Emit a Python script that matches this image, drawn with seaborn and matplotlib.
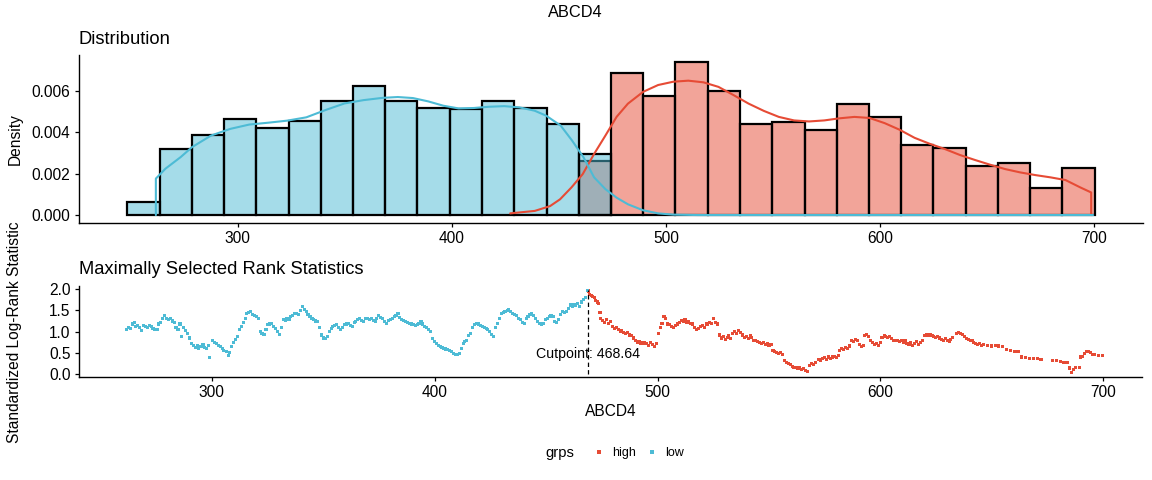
import numpy as np
import pandas as pd
import matplotlib
matplotlib.use("Agg")
import matplotlib.pyplot as plt
import seaborn as sns
from matplotlib.lines import Line2D

# ---------------- data ----------------
bin_edges = [248.5, 263.6, 278.6, 293.7, 308.7, 323.8, 338.9, 353.9, 369.0, 384.0,
             399.1, 414.2, 429.2, 444.3, 459.3, 474.4, 489.5, 504.5, 519.6, 534.6,
             549.7, 564.8, 579.8, 594.9, 609.9, 625.0, 640.1, 655.1, 670.2, 685.2, 700.3]
# low group occupies bins 0..14, high group bins 14..29
low_density = [0.00064, 0.00317, 0.00389, 0.00462, 0.00422, 0.00453, 0.00549, 0.00624,
               0.00549, 0.00518, 0.00514, 0.00549, 0.00518, 0.00442, 0.00293]
high_density = [0.00261, 0.00688, 0.00576, 0.00741, 0.00600, 0.00438, 0.00451, 0.00410,
                0.00538, 0.00474, 0.00337, 0.00323, 0.00235, 0.00250, 0.00133, 0.00227]

low_kde_x = [261.8, 261.8, 266.3, 273.4, 278.7, 287.6, 296.5, 305.4, 314.3, 323.2, 332.1,
             341.0, 349.9, 358.8, 367.7, 374.8, 381.9, 389.0, 396.1, 403.2, 410.3, 417.4,
             424.5, 431.6, 438.7, 444.1, 450.9, 456.2, 461.5, 466.5, 471.8, 477.0, 482.3,
             489.4, 496.4, 503.5, 515.0, 600.0, 699.6]
low_kde_y = [0.0, 0.00176, 0.00224, 0.0028, 0.00328, 0.00384, 0.00416, 0.00437, 0.00446,
             0.00456, 0.00472, 0.00507, 0.00539, 0.00555, 0.00566, 0.0057, 0.00565, 0.00549,
             0.00528, 0.00515, 0.00517, 0.00523, 0.00526, 0.0052, 0.00504, 0.0048, 0.00432,
             0.0036, 0.0028, 0.00182, 0.00125, 0.00084, 0.00052, 0.00023, 0.00008, 0.00002,
             0.0, 0.0, 0.0]
high_kde_x = [427.3, 438.8, 445.9, 450.6, 455.9, 461.2, 466.5, 471.8, 477.0, 482.3, 489.4,
              496.4, 503.5, 510.5, 517.6, 524.6, 531.7, 538.7, 545.8, 552.8, 559.9, 566.9,
              574.0, 581.0, 588.1, 595.1, 602.2, 609.2, 616.2, 623.3, 630.3, 637.4, 644.4,
              651.5, 658.5, 665.5, 672.6, 679.7, 686.7, 693.7, 698.7, 698.7]
high_kde_y = [0.00008, 0.0002, 0.00043, 0.00076, 0.00133, 0.00198, 0.00295, 0.00384, 0.00474,
              0.00538, 0.00595, 0.00628, 0.00644, 0.00649, 0.00641, 0.00619, 0.00579, 0.00538,
              0.00503, 0.00474, 0.00457, 0.00452, 0.00457, 0.00467, 0.00474, 0.00469, 0.00444,
              0.00412, 0.00373, 0.00344, 0.00319, 0.0029, 0.00266, 0.00243, 0.00222, 0.00206,
              0.00193, 0.00182, 0.00169, 0.00133, 0.00109, 0.0]

low_stat_x = [261.7, 262.6, 263.4, 264.3, 265.2, 266.0, 266.9, 267.8, 268.6, 269.5, 270.3, 271.2,
              272.0, 272.9, 273.7, 274.6, 275.5, 276.3, 277.2, 278.0, 278.9, 279.8, 280.6, 281.5,
              282.3, 283.2, 284.0, 284.9, 285.8, 286.6, 287.5, 288.3, 289.2, 290.0, 290.9, 291.8,
              292.6, 293.5, 294.3, 295.2, 296.1, 296.9, 297.8, 298.6, 299.1, 300.3, 301.2, 302.1,
              303.0, 303.8, 304.7, 305.5, 306.7, 307.6, 308.2, 308.9, 309.8, 310.6, 311.5, 312.4,
              313.2, 314.1, 315.0, 315.8, 316.7, 317.5, 318.4, 319.2, 320.1, 320.9, 321.8, 322.6,
              323.5, 324.4, 325.2, 326.1, 326.9, 327.8, 328.7, 329.5, 330.4, 331.2, 332.1, 333.0,
              333.8, 334.7, 335.5, 336.4, 337.2, 338.1, 339.0, 339.8, 340.7, 341.5, 342.4, 343.2,
              344.1, 345.0, 345.8, 346.7, 347.5, 348.4, 349.3, 350.1, 351.0, 351.8, 352.7, 353.6,
              354.4, 355.3, 356.1, 357.0, 357.8, 358.7, 359.6, 360.4, 361.3, 362.1, 363.0, 363.9,
              364.7, 365.6, 366.4, 367.3, 368.1, 369.0, 369.8, 370.7, 371.6, 372.4, 373.3, 374.1,
              375.0, 375.8, 376.7, 377.6, 378.4, 379.3, 380.1, 381.0, 381.9, 382.7, 383.6, 384.4,
              385.3, 386.1, 387.0, 387.9, 388.7, 389.6, 390.4, 391.3, 392.2, 393.0, 393.9, 394.7,
              395.6, 396.4, 397.3, 398.2, 399.0, 399.9, 400.7, 401.6, 402.5, 403.3, 404.2, 405.0,
              405.9, 406.7, 407.6, 408.5, 409.3, 410.2, 411.0, 411.9, 412.8, 413.6, 414.5, 415.3,
              416.2, 417.1, 417.9, 418.8, 419.6, 420.5, 421.3, 422.2, 423.1, 423.9, 424.8, 425.6,
              426.5, 427.4, 428.2, 429.1, 429.9, 430.8, 431.6, 432.5, 433.3, 434.2, 435.1, 435.9,
              436.8, 437.6, 438.5, 439.4, 440.2, 441.1, 441.9, 442.8, 443.6, 444.5, 445.4, 446.2,
              447.1, 447.9, 448.8, 449.7, 450.5, 451.4, 452.2, 453.1, 453.9, 454.8, 455.7, 456.5,
              457.4, 458.2, 459.1, 460.0, 460.8, 461.7, 462.5, 463.4, 464.2, 465.1, 466.0, 466.8,
              467.7, 468.6]
low_stat_y = [1.05, 1.10, 1.08, 1.18, 1.22, 1.12, 1.15, 1.10, 1.02, 1.14, 1.12, 1.10,
              1.15, 1.12, 1.08, 1.04, 1.06, 1.18, 1.22, 1.30, 1.38, 1.32, 1.28, 1.32,
              1.25, 1.22, 1.10, 1.05, 1.18, 0.88, 1.10, 1.02, 0.95, 0.85, 0.72, 0.68,
              0.62, 0.66, 0.60, 0.65, 0.70, 0.62, 0.60, 0.68, 0.38, 0.80, 0.75, 0.72,
              0.68, 0.65, 0.60, 0.56, 0.52, 0.43, 0.50, 0.65, 0.75, 0.82, 0.88, 1.04,
              1.12, 1.22, 1.30, 1.42, 1.45, 1.47, 1.40, 1.39, 1.35, 1.30, 1.00, 0.96,
              0.94, 1.05, 1.16, 1.18, 1.20, 1.12, 1.08, 1.00, 0.94, 1.10, 1.28, 1.26,
              1.31, 1.28, 1.35, 1.38, 1.43, 1.42, 1.40, 1.50, 1.59, 1.52, 1.47, 1.40,
              1.35, 1.30, 1.28, 1.25, 1.24, 1.10, 0.92, 0.85, 0.84, 0.88, 1.00, 1.08,
              1.12, 1.14, 1.16, 1.10, 1.04, 1.10, 1.16, 1.18, 1.20, 1.15, 1.12, 1.22,
              1.24, 1.28, 1.31, 1.26, 1.24, 1.30, 1.31, 1.28, 1.31, 1.26, 1.24, 1.30,
              1.39, 1.33, 1.31, 1.24, 1.20, 1.26, 1.28, 1.32, 1.35, 1.39, 1.43, 1.34,
              1.28, 1.26, 1.24, 1.22, 1.20, 1.18, 1.16, 1.14, 1.16, 1.20, 1.24, 1.18,
              1.12, 1.10, 1.04, 1.00, 0.84, 0.76, 0.72, 0.68, 0.65, 0.63, 0.61, 0.59,
              0.57, 0.55, 0.53, 0.49, 0.47, 0.45, 0.49, 0.60, 0.72, 0.76, 0.80, 0.90,
              0.96, 1.10, 1.16, 1.20, 1.18, 1.14, 1.12, 1.10, 1.08, 1.04, 1.00, 0.94,
              0.88, 1.10, 1.20, 1.32, 1.43, 1.46, 1.47, 1.50, 1.51, 1.47, 1.43, 1.41,
              1.39, 1.31, 1.28, 1.22, 1.20, 1.30, 1.35, 1.40, 1.43, 1.38, 1.31, 1.24,
              1.20, 1.18, 1.20, 1.28, 1.31, 1.35, 1.39, 1.35, 1.24, 1.22, 1.28, 1.40,
              1.47, 1.45, 1.47, 1.55, 1.63, 1.60, 1.65, 1.63, 1.67, 1.60, 1.70, 1.75,
              1.80, 1.98]

high_stat_x = [469.0, 469.6, 470.3, 471.0, 471.7, 472.3, 473.0, 473.7, 474.2, 474.6, 475.5, 476.4,
               477.2, 478.1, 478.9, 479.7, 480.6, 481.5, 482.3, 483.2, 484.0, 484.9, 485.7, 486.6,
               487.4, 488.3, 489.1, 490.0, 490.9, 491.7, 492.6, 493.4, 494.3, 495.2, 496.0, 496.9,
               497.7, 498.6, 499.5, 500.3, 501.2, 502.0, 502.9, 503.7, 504.6, 505.5, 506.3, 507.2,
               508.0, 508.9, 509.7, 510.6, 511.5, 512.3, 513.2, 514.0, 514.9, 515.8, 516.6, 517.5,
               518.3, 519.2, 520.0, 520.9, 521.8, 522.6, 523.5, 524.3, 525.2, 526.0, 526.9, 527.7,
               528.6, 529.5, 530.3, 531.2, 532.0, 532.9, 533.7, 534.6, 535.5, 536.3, 537.2, 538.0,
               538.9, 539.8, 540.6, 541.5, 542.3, 543.2,
               544.0, 544.9, 545.8, 546.6, 547.5, 548.3, 549.2, 550.0, 550.9, 551.8, 552.6, 553.5,
               554.3, 555.2, 556.1, 556.9, 557.8, 558.6, 559.5, 560.4, 561.2, 562.1, 562.9, 563.8,
               564.7, 565.5, 566.4, 567.3, 568.1, 568.9, 569.8, 570.7, 572.4, 573.2, 574.1, 575.0,
               575.8, 576.7, 577.6, 578.4, 579.3, 580.1, 581.0, 581.8, 582.7, 583.6, 584.4, 585.3,
               586.2, 587.0, 587.9, 588.7, 589.6, 590.4, 591.3, 592.2, 593.0, 593.9, 594.7, 595.6,
               596.4, 597.3, 598.2, 599.0, 599.9, 600.7, 601.6, 602.4, 603.3, 604.2, 605.0, 605.9,
               606.7, 607.6, 608.5, 609.3, 610.2, 611.0, 611.9, 612.8, 613.6, 614.5, 615.3, 616.2,
               617.0, 617.9, 618.8, 619.6, 620.5, 621.3, 622.2, 623.1, 623.9, 624.8, 625.6, 626.5,
               627.3, 628.2, 629.1, 629.9, 630.8, 631.6, 632.5, 634.2, 635.1, 635.9, 636.8, 637.6,
               638.5, 639.4, 640.2, 641.1, 641.9, 642.8, 643.7, 644.5, 645.4, 646.2, 647.9, 649.7,
               651.4, 653.1, 654.8, 656.5, 658.3, 660.0, 661.7, 663.4, 665.1, 666.8, 668.5, 670.3,
               672.0, 677.1, 678.8, 680.6, 682.3, 684.0, 684.9, 685.7, 686.6, 687.4, 689.1, 689.9,
               690.8, 691.7, 692.6, 693.4, 694.3, 695.1, 696.0, 697.7, 699.6]
high_stat_y = [1.96, 1.88, 1.85, 1.82, 1.80, 1.74, 1.70, 1.66, 1.45, 1.30, 1.26, 1.22,
               1.28, 1.20, 1.24, 1.12, 1.08, 1.10, 1.05, 1.00, 1.02, 0.98, 0.96, 0.98,
               0.92, 0.90, 0.85, 0.80, 0.74, 0.76, 0.73, 0.75, 0.73, 0.72, 0.68, 0.74,
               0.70, 0.65, 0.72, 0.95, 1.10, 1.20, 1.35, 1.30, 1.18, 1.16, 1.12, 1.10,
               1.15, 1.18, 1.22, 1.26, 1.24, 1.28, 1.22, 1.24, 1.20, 1.18, 1.10, 1.05,
               1.08, 1.12, 1.15, 1.10, 1.18, 1.16, 1.22, 1.20, 1.30, 1.22, 1.18, 0.92,
               0.85, 0.88, 0.82, 0.86, 0.90, 0.84, 0.95, 1.00, 0.96, 1.02, 0.98, 0.92,
               0.86, 0.88, 0.84, 0.90, 0.86, 0.80,
               0.80, 0.76, 0.74, 0.72, 0.74, 0.70, 0.72, 0.68, 0.70, 0.55, 0.52, 0.50,
               0.48, 0.50, 0.45, 0.32, 0.28, 0.25, 0.22, 0.18, 0.15, 0.16, 0.12, 0.14,
               0.10, 0.12, 0.08, 0.05, 0.20, 0.25, 0.22, 0.26, 0.35, 0.32, 0.36, 0.38,
               0.34, 0.40, 0.36, 0.40, 0.42, 0.38, 0.44, 0.55, 0.60, 0.58, 0.62, 0.60,
               0.66, 0.80, 0.76, 0.82, 0.78, 0.70, 0.65, 0.68, 0.90, 0.93, 0.88, 0.78,
               0.74, 0.70, 0.72, 0.68, 0.74, 0.86, 0.90, 0.88, 0.86, 0.88, 0.84, 0.80,
               0.78, 0.80, 0.76, 0.78, 0.74, 0.80, 0.72, 0.70, 0.74, 0.68, 0.72, 0.76,
               0.70, 0.74, 0.78, 0.90, 0.92, 0.94, 0.92, 0.90, 0.88, 0.86, 0.88, 0.85,
               0.82, 0.78, 0.84, 0.80, 0.76, 0.82, 0.86, 0.96, 0.97, 0.96, 0.94, 0.88,
               0.84, 0.82, 0.78, 0.80, 0.74, 0.72, 0.70, 0.72, 0.68, 0.70, 0.68, 0.66,
               0.68, 0.66, 0.64, 0.58, 0.56, 0.54, 0.52, 0.40, 0.38, 0.37, 0.36, 0.36,
               0.35, 0.32, 0.31, 0.30, 0.28, 0.26, 0.14, 0.03, 0.10, 0.15, 0.16, 0.40,
               0.42, 0.48, 0.53, 0.52, 0.50, 0.46, 0.45, 0.44, 0.44]

cutpoint = 468.64
x_ticks = [300, 400, 500, 600, 700]
dens_ticks = [0.000, 0.002, 0.004, 0.006]
stat_ticks = [0.0, 0.5, 1.0, 1.5, 2.0]
group_names = ["high", "low"]

# ---------------- style ----------------
RED = "#E64B35"
BLUE = "#4DBBD5"
sns.set_theme(style="ticks")
plt.rcParams['font.family'] = ['Liberation Sans', 'DejaVu Sans']
plt.rcParams.update({
    'text.color': 'black', 'axes.labelcolor': 'black',
    'xtick.color': 'black', 'ytick.color': 'black', 'axes.edgecolor': 'black',
    'axes.linewidth': 1.0, 'xtick.major.width': 0.9, 'ytick.major.width': 0.9,
    'xtick.major.size': 2.6, 'ytick.major.size': 2.6,
    'xtick.major.pad': 3.5, 'ytick.major.pad': 3.5,
    'xtick.labelsize': 11.2, 'ytick.labelsize': 11.2,
})

W, H = 1152, 480
fig = plt.figure(figsize=(W / 100, H / 100), dpi=100)
ax1 = fig.add_axes([79 / W, 1 - 222.7 / H, (1143 - 79) / W, (222.7 - 55) / H])
ax2 = fig.add_axes([79 / W, 1 - 376.7 / H, (1142 - 79) / W, (376.7 - 286) / H])

# ---------------- top: distribution ----------------
low_edges = bin_edges[0:16]
high_edges = bin_edges[14:31]
low_centers = [(a + b) / 2 for a, b in zip(low_edges[:-1], low_edges[1:])]
high_centers = [(a + b) / 2 for a, b in zip(high_edges[:-1], high_edges[1:])]

sns.histplot(x=high_centers, weights=high_density, bins=high_edges, stat="count",
             color=RED, alpha=0.5, edgecolor="black", linewidth=1.6, ax=ax1)
sns.histplot(x=low_centers, weights=low_density, bins=low_edges, stat="count",
             color=BLUE, alpha=0.5, edgecolor="black", linewidth=1.6, ax=ax1)
sns.lineplot(x=high_kde_x, y=high_kde_y, color=RED, linewidth=1.5, sort=False,
             estimator=None, ax=ax1)
sns.lineplot(x=low_kde_x, y=low_kde_y, color=BLUE, linewidth=1.5, sort=False,
             estimator=None, ax=ax1)

ax1.set_xlim(225.9, 722.9)
ax1.set_ylim(-0.00037, 0.00773)
ax1.set_xticks(x_ticks)
ax1.set_xticklabels([str(t) for t in x_ticks])
ax1.set_yticks(dens_ticks)
ax1.set_yticklabels([f"{t:.3f}" for t in dens_ticks])
ax1.set_xlabel("")
ax1.set_ylabel("")
sns.despine(ax=ax1)

# ---------------- bottom: rank statistics ----------------
df = pd.DataFrame({
    "ABCD4": high_stat_x + low_stat_x,
    "stat": high_stat_y + low_stat_y,
    "grps": ["high"] * len(high_stat_x) + ["low"] * len(low_stat_x),
})
sns.scatterplot(data=df, x="ABCD4", y="stat", hue="grps", hue_order=group_names,
                palette={"high": RED, "low": BLUE}, marker="s", s=5, linewidth=0,
                legend=False, ax=ax2)
ax2.plot([cutpoint, cutpoint], [0.0, 1.98], color="black", lw=0.9, ls=(0, (3.5, 2.5)))
ax2.text(cutpoint, 0.47, f"Cutpoint: {cutpoint:.2f}", ha="center", va="center", fontsize=10.2)

ax2.set_xlim(240.5, 717.3)
ax2.set_ylim(-0.065, 2.078)
ax2.set_xticks(x_ticks)
ax2.set_xticklabels([str(t) for t in x_ticks])
ax2.set_yticks(stat_ticks)
ax2.set_yticklabels([f"{t:.1f}" for t in stat_ticks])
ax2.set_xlabel("")
ax2.set_ylabel("")
sns.despine(ax=ax2)

# ---------------- texts ----------------
fig.text(575 / W, 1 - 12.5 / H, "ABCD4", ha="center", va="center", fontsize=11.8)
fig.text(79 / W, 1 - 40 / H, "Distribution", ha="left", va="center", fontsize=13.2)
fig.text(79 / W, 1 - 269 / H, "Maximally Selected Rank Statistics", ha="left", va="center",
         fontsize=13.2)
fig.text(15 / W, 1 - 139 / H, "Density", rotation=90, ha="center", va="center", fontsize=11.2)
fig.text(15 / W, 1 - 332 / H, "Standardized Log-Rank Statistic", rotation=90, ha="center",
         va="center", fontsize=11.2)
fig.text(611 / W, 1 - 411 / H, "ABCD4", ha="center", va="center", fontsize=11.2)

# legend
fig.text(545 / W, 1 - 453 / H, "grps", ha="left", va="center", fontsize=10.6)
handles = [Line2D([], [], ls="none", marker="s", markersize=2.2, color=RED, markeredgewidth=0),
           Line2D([], [], ls="none", marker="s", markersize=2.2, color=BLUE, markeredgewidth=0)]
fig.legend(handles, group_names, ncol=2, loc="center left",
           bbox_to_anchor=(581 / W, 1 - 453 / H), frameon=False, fontsize=9,
           handlelength=1.0, handletextpad=0.6, columnspacing=0.73, borderpad=0.4)

fig.savefig("out.png", dpi=100)
